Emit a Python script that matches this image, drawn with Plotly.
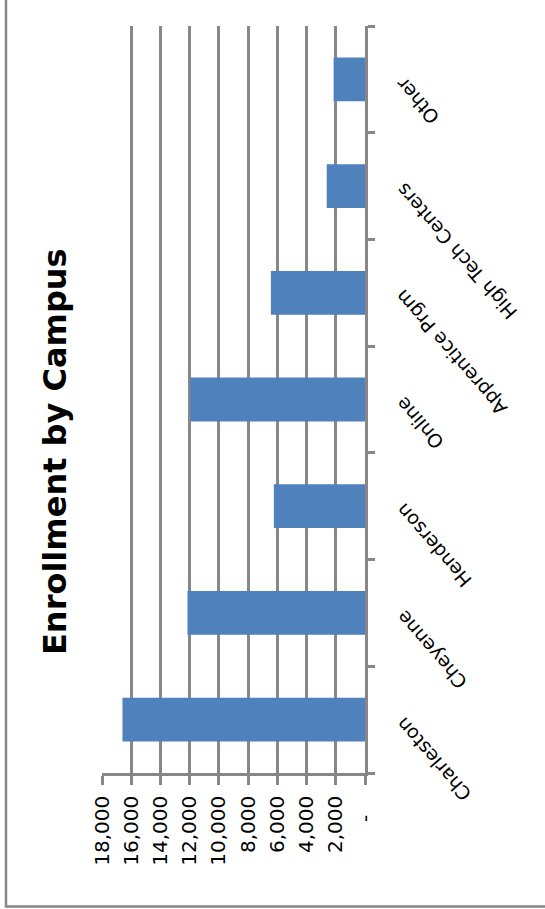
import plotly.graph_objects as go

# Enrollment headcount per campus
campuses = ["Charleston", "Cheyenne", "Henderson", "Online",
            "Apprentice Prgm", "High Tech Centers", "Other"]
enrollment = [16600, 12150, 6240, 11950, 6440, 2620, 2150]

# Value axis ticks (accounting style, zero shown as a dash)
tick_values = [0, 2000, 4000, 6000, 8000, 10000, 12000, 14000, 16000, 18000]
tick_labels = ["-\u00a0\u00a0\u00a0", "2,000", "4,000", "6,000", "8,000", "10,000",
               "12,000", "14,000", "16,000", "18,000"]

W, H = 545, 909
ML, MR, MT, MB = 102, 180, 26, 136
PW, PH = W - ML - MR, H - MT - MB

GRID = "#878787"
BAR = "#4f81bd"


def px_to_paper_x(px):
    return (px - ML) / PW


def px_to_paper_y(py):
    return (H - MB - py) / PH


fig = go.Figure(
    go.Bar(
        x=enrollment,
        y=campuses,
        orientation="h",
        marker=dict(color=BAR, line=dict(width=0)),
        width=0.41,
        hoverinfo="x+y",
    )
)

# Slanted campus names beside the category axis (upside-down, as in the rotated sheet)
label_annotations = [
    dict(
        text=name,
        xref="paper",
        yref="y",
        x=px_to_paper_x(390),
        y=name,
        yshift=8,
        xanchor="left",
        yanchor="top",
        textangle=-131,
        showarrow=False,
        borderpad=0,
        font=dict(family="DejaVu Sans", size=19, color="black"),
    )
    for name in campuses
]

fig.update_layout(
    width=W,
    height=H,
    margin=dict(l=ML, r=MR, t=MT, b=MB, pad=0),
    paper_bgcolor="white",
    plot_bgcolor="white",
    showlegend=False,
    font=dict(family="DejaVu Sans", color="black"),
    xaxis=dict(
        range=[18000, 0],
        tickvals=tick_values,
        ticktext=tick_labels,
        tickangle=-90,
        tickfont=dict(size=20, family="DejaVu Sans"),
        ticklabelstandoff=3,
        showgrid=True,
        gridcolor=GRID,
        gridwidth=2.5,
        showline=True,
        linecolor=GRID,
        linewidth=2.5,
        ticks="outside",
        ticklen=9,
        tickwidth=2.5,
        tickcolor=GRID,
        zeroline=False,
        fixedrange=True,
    ),
    yaxis=dict(
        type="category",
        categoryorder="array",
        categoryarray=campuses,
        side="right",
        showline=True,
        linecolor=GRID,
        linewidth=2.5,
        ticks="outside",
        ticklen=7,
        tickwidth=2.5,
        tickcolor=GRID,
        tickson="boundaries",
        showgrid=False,
        showticklabels=False,
        range=[-0.5, 6.5],
        fixedrange=True,
    ),
    annotations=label_annotations + [
        dict(
            text="<b>Enrollment by Campus</b>",
            textangle=-90,
            xref="paper",
            yref="paper",
            x=px_to_paper_x(55),
            y=px_to_paper_y(452),
            xanchor="center",
            yanchor="middle",
            showarrow=False,
            font=dict(family="DejaVu Sans", size=32, color="black"),
        )
    ],
    shapes=[
        dict(
            type="rect",
            xref="paper",
            yref="paper",
            x0=px_to_paper_x(6),
            x1=px_to_paper_x(W + 20),
            y0=px_to_paper_y(906.5),
            y1=px_to_paper_y(-20),
            line=dict(color=GRID, width=2.5),
            fillcolor="rgba(0,0,0,0)",
            layer="below",
        )
    ],
)

fig.write_html("out.html")
